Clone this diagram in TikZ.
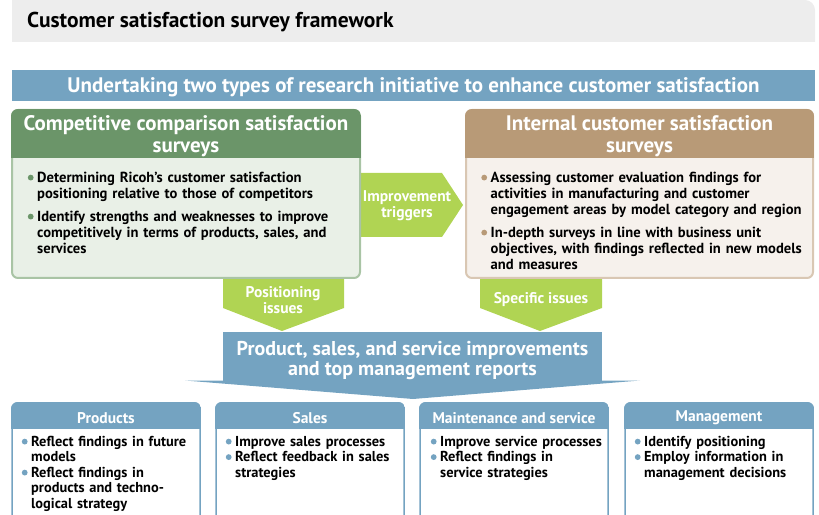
\documentclass[tikz,border=0pt]{standalone}
\usepackage{fontspec}
\setmainfont{PT Sans}
\usetikzlibrary{positioning, calc}

\definecolor{barblue}{HTML}{74A3C1}
\definecolor{compgreen}{HTML}{6B9569}
\definecolor{compbg}{HTML}{E9F0E7}
\definecolor{compline}{HTML}{A9C4A5}
\definecolor{intbrown}{HTML}{B89A77}
\definecolor{intbg}{HTML}{F6F1EC}
\definecolor{intline}{HTML}{D9C7B3}
\definecolor{trigger}{HTML}{B0D453}
\definecolor{titlegray}{HTML}{EDEDED}

\tikzset{
	head/.style = {text=white, inner sep=0pt, align=center,
		font=\bfseries\fontsize{21bp}{22bp}\selectfont},
	midtext/.style = {text=white, inner sep=0pt, align=center,
		font=\bfseries\fontsize{20bp}{20bp}\selectfont},
	arrowtext/.style = {text=white, inner sep=0pt, align=center,
		font=\bfseries\fontsize{15.5bp}{16bp}\selectfont},
	subhead/.style = {text=white, inner sep=0pt,
		font=\bfseries\fontsize{15.5bp}{16bp}\selectfont},
	bodytext/.style = {anchor=north west, inner sep=0pt, align=left,
		font=\bfseries\fontsize{14.6bp}{16bp}\selectfont},
	boxtext/.style = {bodytext, text width=178bp,
		font=\bfseries\fontsize{14.4bp}{15.5bp}\selectfont},
	framebox/.style = {line width=1.5bp, rounded corners=6bp}
}

% bullet item, dot hanging in the left margin
\newcommand{\dotitem}[2]{\par\noindent\llap{\tikz[baseline=-4.6bp]\fill[#1] (0,0) circle (2.9bp);\hspace{3.6bp}}#2}

\begin{document}
\begin{tikzpicture}[x=1bp, y=-1bp, line join=round]
	\useasboundingbox (0,0) rectangle (819,515);
	\clip (0,0) rectangle (819,515);

	% Title bar
	\fill[titlegray] (12,42) -- (12,0) -- (805,0) .. controls (810.5,0) and (815,4.5) .. (815,10) -- (815,42) -- cycle;
	\node[anchor=west, inner sep=0pt, font=\bfseries\fontsize{21.5bp}{22bp}\selectfont] (title) at (27,22.5) {Customer satisfaction survey framework};

	% Banner
	\fill[barblue] (12,70) rectangle (815,101);
	\node[head] (banner) at (413.5,87.5) {Undertaking two types of research initiative to enhance customer satisfaction};

	% Arrows
	\fill[trigger] (355,173) -- (442,173) -- (463,205) -- (442,237) -- (355,237) -- cycle;
	\fill[trigger] (223,270) -- (344,270) -- (344,308) -- (282,331) -- (223,308) -- cycle;
	\fill[trigger] (480,270) -- (602,270) -- (602,308) -- (540,331) -- (480,308) -- cycle;

	% Competitive comparison box
	\fill[compbg, rounded corners=6bp] (12,110) rectangle (360,278);
	\draw[compline, framebox, line width=2bp] (12,110) rectangle (360,278);
	\begin{scope}
		\clip[rounded corners=7bp] (11,109) rectangle (361,279);
		\fill[compgreen] (11,109) rectangle (361,158);
	\end{scope}

	% Internal box
	\fill[intbg, rounded corners=6bp] (466,110) rectangle (813,278);
	\draw[intline, framebox, line width=2bp] (466,110) rectangle (813,278);
	\begin{scope}
		\clip[rounded corners=7bp] (465,109) rectangle (814,279);
		\fill[intbrown] (465,109) rectangle (814,158);
	\end{scope}

	% Improvements box
	\fill[barblue] (223,332) rectangle (602,381);
	\fill[barblue] (185,380.5) -- (640,380.5) -- (413,399) -- cycle;

	% Bottom boxes
	\foreach \x in {12,216,420,625}
	{
		\fill[white, rounded corners=6bp] (\x,403) rectangle ++(188,130);
		\draw[barblue, framebox] (\x,403) rectangle ++(188,130);
		\begin{scope}
			\clip[rounded corners=6.5bp] ($(\x,403)+(-1,-1)$) rectangle ++(190,132);
			\fill[barblue] ($(\x,403)+(-1,-1)$) rectangle ++(190,27);
		\end{scope}
	}

	% Nodes
	\node[head] (comphead) at (186,136.5) {Competitive comparison satisfaction\\surveys};
	\node[head] (inthead) at (639.5,136.5) {Internal customer satisfaction\\surveys};

	\node[bodytext, text width=318bp] (compbody) at (37,166) {%
		\dotitem{compgreen}{Determining Ricoh’s customer satisfaction\newline positioning relative to those of competitors}\par\vspace{7bp}
		\dotitem{compgreen}{Identify strengths and weaknesses to improve\newline competitively in terms of products, sales, and\newline services}};
	\node[bodytext, text width=322bp] (intbody) at (490.5,166) {%
		\dotitem{intbrown}{Assessing customer evaluation findings for\newline activities in manufacturing and customer\newline engagement areas by model category and region}\par\vspace{7bp}
		\dotitem{intbrown}{In-depth surveys in line with business unit\newline objectives, with findings reflected in new models\newline and measures}};

	\node[arrowtext] (trig) at (407,206) {Improvement\\triggers};
	\node[arrowtext] (posit) at (283,300) {Positioning\\issues};
	\node[arrowtext] (specific) at (541,300) {Specific issues};
	\node[midtext] (improve) at (412.5,360.5) {Product, sales, and service improvements\\and top management reports};

	\node[subhead] (prodhead) at (106,418) {Products};
	\node[subhead] (saleshead) at (310,418) {Sales};
	\node[subhead] (mainthead) at (514,418) {Maintenance and service};
	\node[subhead] (mgmthead) at (719,418) {Management};

	\node[boxtext] (prodbody) at (31,430.5) {%
		\dotitem{barblue}{Reflect findings in future\newline models}
		\dotitem{barblue}{Reflect findings in\newline products and techno-\newline logical strategy}};
	\node[boxtext] (salesbody) at (235,430.5) {%
		\dotitem{barblue}{Improve sales processes}
		\dotitem{barblue}{Reflect feedback in sales\newline strategies}};
	\node[boxtext] (maintbody) at (440,430.5) {%
		\dotitem{barblue}{Improve service processes}
		\dotitem{barblue}{Reflect findings in\newline service strategies}};
	\node[boxtext] (mgmtbody) at (644,430.5) {%
		\dotitem{barblue}{Identify positioning}
		\dotitem{barblue}{Employ information in\newline management decisions}};
\end{tikzpicture}
\end{document}
